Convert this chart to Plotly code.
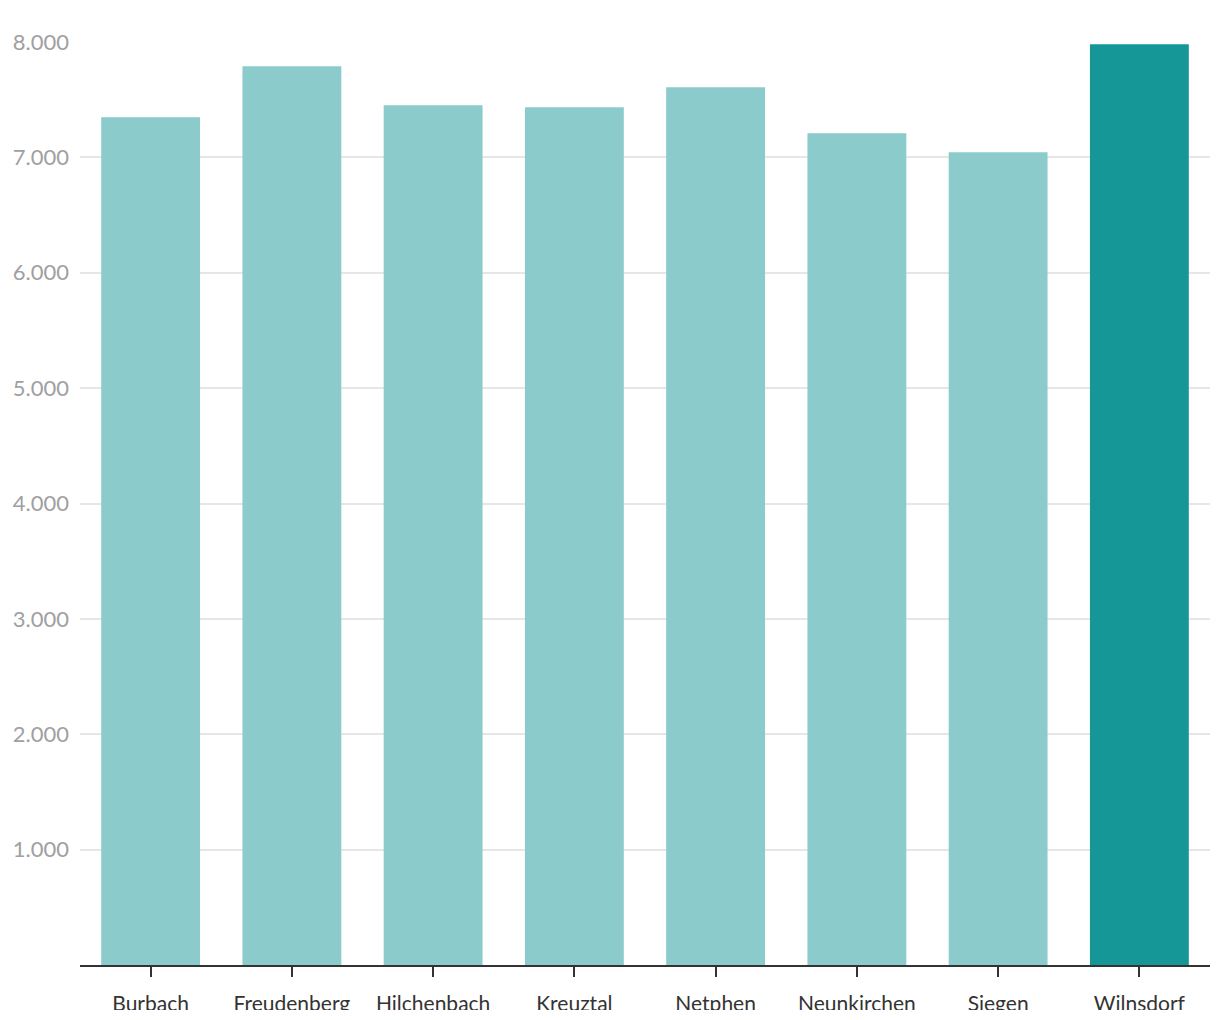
import plotly.graph_objects as go

# Gemeinden im Kreis Siegen-Wittgenstein
towns = ["Burbach", "Freudenberg", "Hilchenbach", "Kreuztal",
         "Netphen", "Neunkirchen", "Siegen", "Wilnsdorf"]
values = [7348, 7790, 7452, 7435, 7608, 7210, 7045, 7981]
highlight = "Wilnsdorf"

y_ticks = [1000, 2000, 3000, 4000, 5000, 6000, 7000, 8000]

light = "#8ccbcb"
dark = "#159797"
colors = [dark if t == highlight else light for t in towns]

fig = go.Figure(go.Bar(x=towns, y=values, marker=dict(color=colors, line=dict(width=0)),
                       hovertemplate="%{x}: %{y:,d}<extra></extra>"))

# set up layout (page body adds an 8px offset)
fig.update_layout(
    width=1220, height=1020,
    margin=dict(l=72, r=18, t=34, b=63),
    plot_bgcolor="white", paper_bgcolor="white",
    bargap=0.3,
    separators=",.",
    showlegend=False,
    font=dict(family="Lato, sans-serif"),
)

fig.update_xaxes(
    automargin=False,
    showline=True, linecolor="#333333", linewidth=2,
    ticks="outside", ticklen=10, tickwidth=2, tickcolor="#333333",
    tickfont=dict(size=21, color="#333333"),
    ticklabelstandoff=9,
    showgrid=False,
)

fig.update_yaxes(
    automargin=False,
    range=[0, 8000], tickvals=y_ticks, tickformat=",d",
    showgrid=True, gridcolor="#e6e6e6", gridwidth=2,
    zeroline=False, showline=False,
    tickfont=dict(size=22, color="#a0a0a0"),
    ticklabelstandoff=10,
)

# the original crops the category labels at the bottom edge
fig.add_shape(type="rect", xref="paper", yref="paper", x0=0, x1=1, y0=-0.066, y1=-0.0488,
              fillcolor="white", line=dict(width=0), layer="above")

fig.write_html("out.html")
